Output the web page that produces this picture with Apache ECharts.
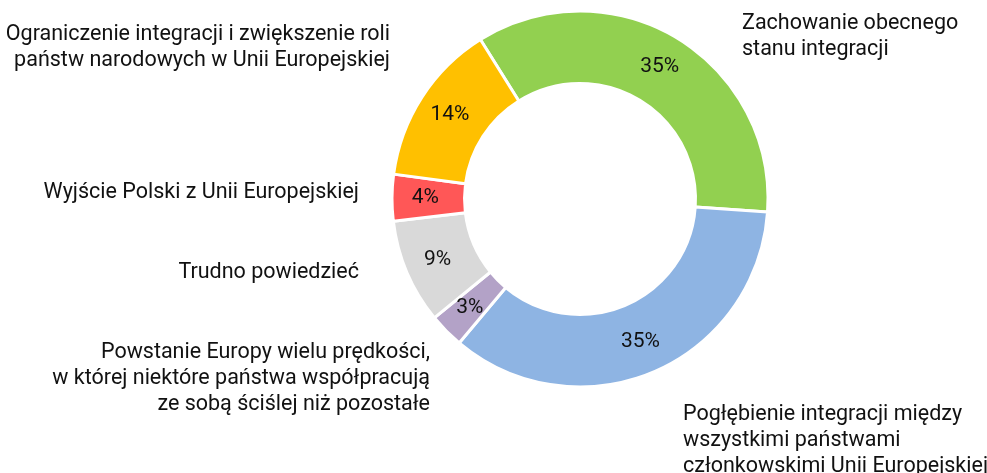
<!DOCTYPE html>
<html>
<head>
	<meta charset="UTF-8">
	<title>Przyszłość Unii Europejskiej</title>
	<style>
		html, body { margin: 0; padding: 0; background: #fff; }
		#main { width: 987px; height: 473px; }
	</style>
</head>
<body>
	<div id="main"></div>
	<script type="text/javascript" src="https://cdn.jsdelivr.net/npm/echarts@6/dist/echarts.min.js"></script>
	<script type="text/javascript">
		// dane (kolejnosc zgodnie z ruchem wskazowek zegara)
		var names = [
			'Zachowanie obecnego\nstanu integracji',
			'Pogłębienie integracji między\nwszystkimi państwami\nczłonkowskimi Unii Europejskiej',
			'Powstanie Europy wielu prędkości,\nw której niektóre państwa współpracują\nze sobą ściślej niż pozostałe',
			'Trudno powiedzieć',
			'Wyjście Polski z Unii Europejskiej',
			'Ograniczenie integracji i zwiększenie roli\npaństw narodowych w Unii Europejskiej'
		];
		var values = [35, 35, 3, 9, 4, 14];
		var colors = ['#92d050', '#8eb4e3', '#b3a2c7', '#d9d9d9', '#ff5757', '#ffc000'];

		// polozenie opisow (x, y srodka bloku, wyrownanie)
		var labelPos = [
			[742, 37, 'left'],
			[683, 441, 'left'],
			[430, 379, 'right'],
			[359, 273, 'right'],
			[359, 193, 'right'],
			[390, 48, 'right']
		];

		var pieData = [];
		for (var i = 0; i < values.length; i++) {
			pieData.push({ name: names[i], value: values[i], itemStyle: { color: colors[i] } });
		}

		var myChart = echarts.init(document.getElementById('main'));
		var option = {
			animation: false,
			textStyle: { fontFamily: 'Roboto' },
			series: [{
				type: 'pie',
				center: [580, 199],
				radius: [115.5, 188],
				startAngle: 122,
				clockwise: true,
				silent: true,
				itemStyle: { borderColor: '#fff', borderWidth: 3 },
				label: {
					show: true,
					position: 'inside',
					formatter: '{c}%',
					fontSize: 21,
					color: '#111',
					fontFamily: 'Roboto'
				},
				labelLine: { show: false },
				data: pieData
			}, {
				type: 'pie',
				center: [580, 199],
				radius: [115.5, 188],
				startAngle: 122,
				clockwise: true,
				silent: true,
				avoidLabelOverlap: false,
				itemStyle: { color: 'rgba(0,0,0,0)', borderWidth: 0 },
				label: {
					show: true,
					position: 'outside',
					formatter: '{b}',
					fontSize: 21.5,
					lineHeight: 26,
					overflow: 'none',
					width: 500,
					color: '#111',
					fontFamily: 'Roboto'
				},
				labelLine: { show: false },
				labelLayout: function (params) {
					var p = labelPos[params.dataIndex];
					return { x: p[0], y: p[1], align: p[2], verticalAlign: 'middle' };
				},
				data: names.map(function (n, i) { return { name: n, value: values[i] }; })
			}]
		};
		myChart.setOption(option);
	</script>
</body>
</html>
